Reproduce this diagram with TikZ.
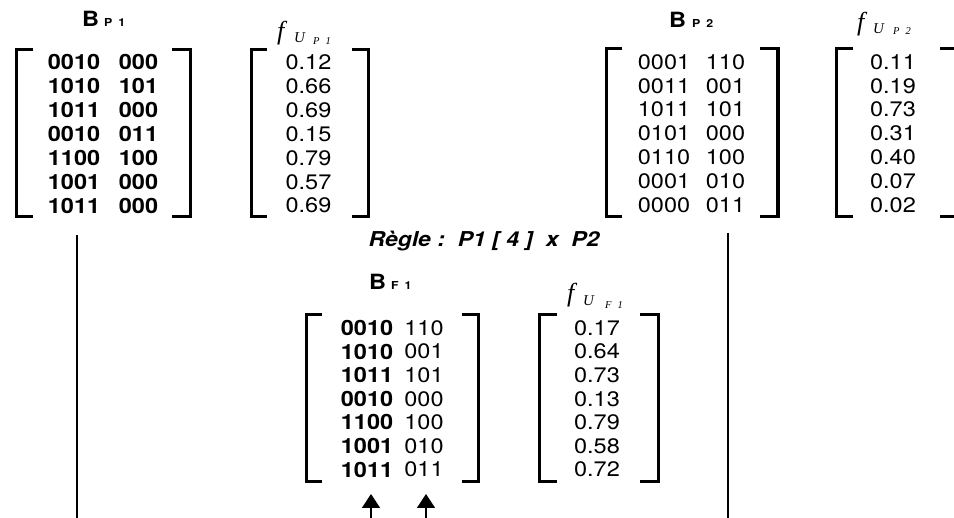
\documentclass[tikz,border=0pt]{standalone}
\usepackage{fontspec}
\setmainfont{TeX Gyre Heros}[FakeStretch=1.12]
\newfontfamily\fserif{Liberation Serif}
\usetikzlibrary{arrows.meta}

% open and close brackets: #1 outer x, #2 inner x, #3 top y, #4 bottom y
\newcommand\openbr[4]{\draw[brk] (#2,#3) -- (#1,#3) -- (#1,#4) -- (#2,#4);}
\newcommand\closebr[4]{\draw[brk] (#2,#3) -- (#1,#3) -- (#1,#4) -- (#2,#4);}

\tikzset{
  bit/.style={inner sep=0pt, font=\fontsize{21}{21}\selectfont},
  bitb/.style={inner sep=0pt, font=\fontsize{21}{21}\selectfont\bfseries},
  bname/.style={inner sep=0pt, anchor=base west, font=\fontsize{21}{21}\selectfont\bfseries},
  bsub/.style={inner sep=0pt, anchor=base west, font=\fontsize{11}{11}\selectfont\bfseries},
  fmain/.style={inner sep=0pt, anchor=base west, font=\fserif\fontsize{26}{26}\selectfont\itshape},
  fsub/.style={inner sep=0pt, anchor=base west, font=\fserif\fontsize{15}{15}\selectfont\itshape},
  fsubsub/.style={inner sep=0pt, anchor=base west, font=\fserif\fontsize{10.5}{11}\selectfont\itshape},
  brk/.style={line width=3.4pt, line cap=butt, line join=miter},
  link/.style={line width=1.5pt},
  uparrow/.style={line width=1.5pt, -{Triangle[length=14pt,width=18pt]}},
}

\begin{document}
\begin{tikzpicture}[x=1pt,y=-1pt]
\useasboundingbox (0,0) rectangle (954,518);
\clip (0,0) rectangle (954,518);
\fill[white] (0,0) rectangle (954,518);

% ---------- parent P1 ----------
\node[bname] (bp1) at (82,27) {B};
\node[bsub] (bp1s) at (104,27) {P\hspace{6pt}1};
\openbr{16.5}{33}{49.5}{216.5}
\closebr{190.5}{172}{49.5}{216.5}
\foreach \a/\b [count=\i from 0] in {0010/000,1010/101,1011/000,0010/011,1100/100,1001/000,1011/000}{
  \node[bitb] (p1a\i) at (74,62.3+23.9*\i) {\a};
  \node[bitb] (p1b\i) at (138.5,62.3+23.9*\i) {\b};
}
\node[fmain] (fp1) at (277,40) {f};
\node[fsub] (fp1u) at (294,43) {U};
\node[fsubsub] (fp1s) at (313,45) {P\hspace{6pt}1};
\openbr{251.5}{267}{49.5}{216.5}
\closebr{368.5}{352}{49.5}{216.5}
\foreach \v [count=\i from 0] in {0.12,0.66,0.69,0.15,0.79,0.57,0.69}{
  \node[bit] (p1f\i) at (308.5,62.3+23.9*\i) {\v};
}

% ---------- parent P2 ----------
\node[bname] (bp2) at (669,28) {B};
\node[bsub] (bp2s) at (692,28) {P\hspace{6pt}2};
\openbr{606.5}{622}{48.5}{216.5}
\closebr{778}{760}{48.5}{216.5}
\foreach \a/\b [count=\i from 0] in {0001/110,0011/001,1011/101,0101/000,0110/100,0001/010,0000/011}{
  \node[bit] (p2a\i) at (664,62+23.8*\i) {\a};
  \node[bit] (p2b\i) at (725.5,62+23.8*\i) {\b};
}
\node[fmain] (fp2) at (857,31) {f};
\node[fsub] (fp2u) at (873,34) {U};
\node[fsubsub] (fp2s) at (893,35) {P\hspace{6pt}2};
\openbr{836.5}{853}{48.5}{216.5}
\closebr{957}{940}{48.5}{216.5}
\foreach \v [count=\i from 0] in {0.11,0.19,0.73,0.31,0.40,0.07,0.02}{
  \node[bit] (p2f\i) at (893,62+23.8*\i) {\v};
}

% ---------- crossover rule ----------
\node[inner sep=0pt, font=\fontsize{20.5}{21}\selectfont\bfseries\itshape] (rule) at (484,241)
  {Règle :\ \ P1 [ 4 ]\ \ x\ \ P2};

% ---------- offspring F1 ----------
\node[bname] (bf1) at (369,290) {B};
\node[bsub] (bf1s) at (391,290) {F\hspace{6pt}1};
\openbr{306.5}{322}{314.5}{481.5}
\closebr{478.5}{462}{314.5}{481.5}
\foreach \a/\b [count=\i from 0] in {0010/110,1010/001,1011/101,0010/000,1100/100,1001/010,1011/011}{
  \node[bitb] (f1a\i) at (367,328+23.6*\i) {\a};
  \node[bit] (f1b\i) at (424,328+23.6*\i) {\b};
}
\node[fmain] (ff1) at (567,302) {f};
\node[fsub] (ff1u) at (583,306) {U};
\node[fsubsub] (ff1s) at (605,309) {F\hspace{6pt}1};
\openbr{539.5}{557}{314.5}{481.5}
\closebr{658.5}{640}{314.5}{481.5}
\foreach \v [count=\i from 0] in {0.17,0.64,0.73,0.13,0.79,0.58,0.72}{
  \node[bit] (f1f\i) at (597,328+23.6*\i) {\v};
}

% ---------- links and arrows ----------
\coordinate (l1top) at (77,235);
\coordinate (l1bot) at (77,518);
\coordinate (l2top) at (728,233);
\coordinate (l2bot) at (728,518);
\draw[link] (l1top) -- (l1bot);
\draw[link] (l2top) -- (l2bot);

\coordinate (ar1b) at (371,520);
\coordinate (ar1t) at (371,494);
\coordinate (ar2b) at (426,520);
\coordinate (ar2t) at (426,494);
\draw[uparrow] (ar1b) -- (ar1t);
\draw[uparrow] (ar2b) -- (ar2t);
\end{tikzpicture}
\end{document}
